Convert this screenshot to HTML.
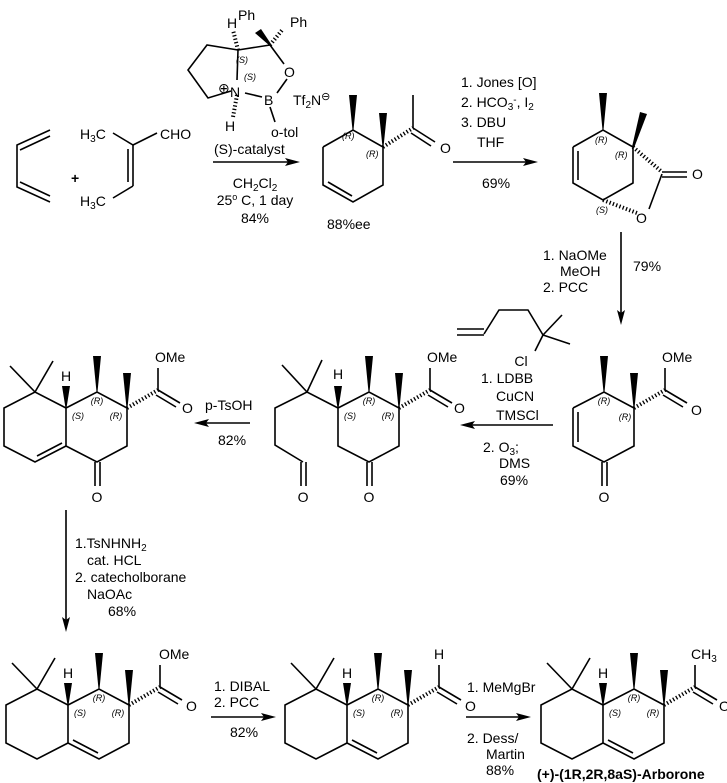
<!DOCTYPE html>
<html><head><meta charset="utf-8"><style>
html,body{margin:0;padding:0;background:#fff}
svg{display:block}
text{font-family:"Liberation Sans",Arial,sans-serif;font-size:14px;fill:#000}
.s{font-size:9px;font-style:italic}
</style></head><body>
<svg width="727" height="783" viewBox="0 0 727 783" xmlns="http://www.w3.org/2000/svg">
<defs>
<g id="ester">
 <line x1="61" y1="0" x2="92" y2="-18" stroke="#000" stroke-width="4" stroke-dasharray="1.3,2.2"/>
 <line x1="92" y1="-18" x2="92" y2="-40" stroke="#000" stroke-width="1.6"/>
 <line x1="92" y1="-18" x2="114" y2="-5" stroke="#000" stroke-width="1.6"/>
 <line x1="90" y1="-13" x2="110" y2="-1" stroke="#000" stroke-width="1.6"/>
</g>
<g id="wedges">
 <polygon points="30.5,-16 31.5,-16 35,-52 27,-52"/>
 <polygon points="60.5,0 61.5,0 65,-35 57,-35"/>
</g>
<g id="ringB">
 <polyline points="0,0 31,-16 61,0 61,38 31,54 0,38 0,0" fill="none" stroke="#000" stroke-width="1.6"/>
</g>
<g id="decal">
 <use href="#ringB"/>
 <polyline points="0,0 -31,-16 -62,0 -62,38 -31,54 0,38" fill="none" stroke="#000" stroke-width="1.6"/>
 <line x1="-31" y1="-16" x2="-56" y2="-42" stroke="#000" stroke-width="1.6"/>
 <line x1="-31" y1="-16" x2="-13" y2="-47" stroke="#000" stroke-width="1.6"/>
 <polygon points="-0.5,0 0.5,0 4,-22 -4,-22"/>
 <text x="0" y="-27" text-anchor="middle">H</text>
 <use href="#wedges"/>
 <text class="s" x="12" y="11" text-anchor="middle">(S)</text>
 <text class="s" x="31" y="-4" text-anchor="middle">(R)</text>
 <text class="s" x="50" y="11" text-anchor="middle">(R)</text>
</g>
</defs>

<g stroke="#000" stroke-width="1.6" fill="none">
<polyline points="50,130 17,145 17,187 50,202"/>
<line x1="20" y1="150" x2="50" y2="136"/>
<line x1="20" y1="182" x2="50" y2="196"/>
<line x1="113" y1="133" x2="133" y2="145"/>
<line x1="133" y1="145" x2="157" y2="133"/>
<line x1="133" y1="145" x2="133" y2="186"/>
<line x1="128" y1="149" x2="128" y2="182"/>
<line x1="133" y1="186" x2="113" y2="198"/>
<polyline points="238,50 207,45 188,70 208,98 231,91"/>
<line x1="237" y1="80" x2="238" y2="50"/>
<line x1="238" y1="50" x2="270" y2="45"/>
<line x1="270" y1="45" x2="284" y2="64"/>
<line x1="287" y1="79" x2="277" y2="93"/>
<line x1="245" y1="93" x2="262" y2="97"/>
<line x1="270" y1="107" x2="275" y2="122"/>
<line x1="238" y1="50" x2="233" y2="30" stroke-width="4" stroke-dasharray="1.3,2.2"/>
<line x1="237" y1="95" x2="233" y2="117" stroke-width="4" stroke-dasharray="1.3,2.2"/>
<line x1="270" y1="45" x2="283" y2="29" stroke-width="4" stroke-dasharray="1.3,2.2"/>
</g>
<polygon points="270,46 271,44 261,29 255,33"/>

<g stroke="#000" stroke-width="1.6" fill="none">
<g transform="translate(323,147)">
 <polyline points="0,0 30,-17 60,0 60,38 30,55 0,38 0,0"/>
 <line x1="5" y1="35" x2="29" y2="49"/>
 <line x1="60" y1="0" x2="90" y2="-19" stroke-width="4" stroke-dasharray="1.3,2.2"/>
 <line x1="90" y1="-19" x2="90" y2="-52"/>
 <line x1="90" y1="-19" x2="112" y2="-5"/>
 <line x1="88" y1="-14" x2="108" y2="-1"/>
</g>
<g transform="translate(573,147)">
 <polyline points="0,0 30,-17 60,0 60,36 30,53 0,36 0,0"/>
 <line x1="5" y1="4" x2="5" y2="33"/>
 <line x1="60" y1="0" x2="89" y2="25" stroke-width="4" stroke-dasharray="1.3,2.2"/>
 <line x1="89" y1="25" x2="114" y2="25"/>
 <line x1="89" y1="30" x2="114" y2="30"/>
 <line x1="89" y1="27" x2="76" y2="62"/>
 <line x1="30" y1="53" x2="64" y2="66" stroke-width="4" stroke-dasharray="1.3,2.2"/>
</g>
</g>
<polygon points="352.5,130 353.5,130 357,95 349,95"/>
<polygon points="382.5,147 383.5,147 387,113 379,113"/>
<polygon points="602.5,130 603.5,130 607,93 599,93"/>
<polygon points="632,147 634,148 647,114 640,112"/>

<text x="80" y="139">H<tspan font-size="10" dy="3">3</tspan><tspan dy="-3">C</tspan></text>
<text x="160" y="139">CHO</text>
<text x="80" y="206">H<tspan font-size="10" dy="3">3</tspan><tspan dy="-3">C</tspan></text>
<text x="71" y="183" font-size="20" font-weight="bold">+</text>
<text x="227" y="28">H</text><text x="238" y="20">Ph</text>
<text x="290" y="27">Ph</text>
<text x="284" y="77">O</text>
<text x="264" y="105">B</text>
<text x="230" y="97">N</text>
<text x="218" y="93" font-size="11">⊕</text>
<text class="s" x="236" y="63">(S)</text>
<text class="s" x="244" y="80">(S)</text>
<text x="293" y="105">Tf<tspan font-size="10" dy="3">2</tspan><tspan dy="-3">N</tspan><tspan font-size="11" dy="-5">⊖</tspan></text>
<text x="225" y="131">H</text>
<text x="271" y="137">o-tol</text>
<text x="214" y="154" font-size="11">(S)-catalyst</text>
<line x1="213" y1="162" x2="290" y2="162" stroke="#000" stroke-width="1.6"/>
<polygon points="300,162 285,158 288,162 285,166"/>
<text x="255" y="188" text-anchor="middle">CH<tspan font-size="10" dy="3">2</tspan><tspan dy="-3">Cl</tspan><tspan font-size="10" dy="3">2</tspan></text>
<text x="255" y="205" text-anchor="middle">25<tspan font-size="9" dy="-5">o</tspan><tspan dy="5"> C, 1 day</tspan></text>
<text x="255" y="223" text-anchor="middle">84%</text>
<text class="s" x="342" y="139">(R)</text>
<text class="s" x="366" y="157">(R)</text>
<text x="440" y="153">O</text>
<text x="327" y="229">88%ee</text>

<text x="461" y="87">1. Jones [O]</text>
<text x="461" y="107">2. HCO<tspan font-size="10" dy="3">3</tspan><tspan font-size="10" dy="-7">-</tspan><tspan dy="4">, I</tspan><tspan font-size="10" dy="3">2</tspan></text>
<text x="461" y="127">3. DBU</text>
<text x="477" y="147">THF</text>
<line x1="453" y1="162" x2="528" y2="162" stroke="#000" stroke-width="1.6"/>
<polygon points="538,162 523,158 526,162 523,166"/>
<text x="482" y="188">69%</text>
<text class="s" x="595" y="143">(R)</text>
<text class="s" x="615" y="158">(R)</text>
<text class="s" x="596" y="213">(S)</text>
<text x="692" y="179">O</text>
<text x="636" y="223">O</text>

<line x1="621" y1="232" x2="621" y2="313" stroke="#000" stroke-width="1.6"/>
<polygon points="621,325 617,310 621,313 625,310"/>
<text x="543" y="260">1. NaOMe</text>
<text x="560" y="276">MeOH</text>
<text x="543" y="292">2. PCC</text>
<text x="633" y="271">79%</text>

<g transform="translate(573,408)">
 <use href="#ringB"/>
 <line x1="5" y1="4" x2="5" y2="34" stroke="#000" stroke-width="1.6"/>
 <line x1="29" y1="54" x2="29" y2="78" stroke="#000" stroke-width="1.6"/>
 <line x1="34" y1="54" x2="34" y2="78" stroke="#000" stroke-width="1.6"/>
 <text x="31" y="94" text-anchor="middle">O</text>
 <use href="#wedges"/>
 <use href="#ester"/>
 <text x="89" y="-46">OMe</text>
 <text x="118" y="7">O</text>
 <text class="s" x="31" y="-4" text-anchor="middle">(R)</text>
 <text class="s" x="52" y="12" text-anchor="middle">(R)</text>
</g>

<g stroke="#000" stroke-width="1.6" fill="none">
<line x1="457" y1="329" x2="484" y2="329"/>
<line x1="457" y1="335" x2="484" y2="335"/>
<polyline points="484,334 499,310 528,310 543,335"/>
<line x1="543" y1="335" x2="562" y2="315"/>
<line x1="543" y1="335" x2="570" y2="344"/>
<line x1="543" y1="335" x2="535" y2="351"/>
</g>
<text x="521" y="366" text-anchor="middle">Cl</text>
<text x="481" y="383">1. LDBB</text>
<text x="496" y="401">CuCN</text>
<text x="496" y="420">TMSCl</text>
<line x1="470" y1="425" x2="553" y2="425" stroke="#000" stroke-width="1.6"/>
<polygon points="460,425 475,421 472,425 475,429"/>
<text x="483" y="452">2. O<tspan font-size="10" dy="3">3</tspan><tspan dy="-3">;</tspan></text>
<text x="499" y="468">DMS</text>
<text x="500" y="485">69%</text>

<g transform="translate(338,408)">
 <use href="#ringB"/>
 <polyline points="0,0 -31,-16 -63,0 -63,37 -35,54" fill="none" stroke="#000" stroke-width="1.6"/>
 <line x1="-37" y1="54" x2="-37" y2="78" stroke="#000" stroke-width="1.6"/>
 <line x1="-32" y1="54" x2="-32" y2="78" stroke="#000" stroke-width="1.6"/>
 <text x="-35" y="94" text-anchor="middle">O</text>
 <line x1="-31" y1="-16" x2="-56" y2="-43" stroke="#000" stroke-width="1.6"/>
 <line x1="-31" y1="-16" x2="-16" y2="-48" stroke="#000" stroke-width="1.6"/>
 <line x1="29" y1="54" x2="29" y2="78" stroke="#000" stroke-width="1.6"/>
 <line x1="34" y1="54" x2="34" y2="78" stroke="#000" stroke-width="1.6"/>
 <text x="31" y="94" text-anchor="middle">O</text>
 <polygon points="-0.5,0 0.5,0 4,-22 -4,-22"/>
 <text x="0" y="-29" text-anchor="middle">H</text>
 <use href="#wedges"/>
 <use href="#ester"/>
 <text x="89" y="-46">OMe</text>
 <text x="116" y="5">O</text>
 <text class="s" x="12" y="11" text-anchor="middle">(S)</text>
 <text class="s" x="31" y="-4" text-anchor="middle">(R)</text>
 <text class="s" x="50" y="11" text-anchor="middle">(R)</text>
</g>

<line x1="205" y1="423" x2="250" y2="423" stroke="#000" stroke-width="1.6"/>
<polygon points="194,423 209,419 206,423 209,427"/>
<text x="205" y="410">p-TsOH</text>
<text x="218" y="445">82%</text>

<g transform="translate(66,408)">
 <use href="#decal"/>
 <line x1="-29" y1="48" x2="-4" y2="35" stroke="#000" stroke-width="1.6"/>
 <line x1="29" y1="54" x2="29" y2="78" stroke="#000" stroke-width="1.6"/>
 <line x1="34" y1="54" x2="34" y2="78" stroke="#000" stroke-width="1.6"/>
 <text x="31" y="94" text-anchor="middle">O</text>
 <use href="#ester"/>
 <text x="89" y="-46">OMe</text>
 <text x="116" y="5">O</text>
</g>

<line x1="66" y1="510" x2="66" y2="620" stroke="#000" stroke-width="1.6"/>
<polygon points="66,632 62,617 66,620 70,617"/>
<text x="75" y="548">1.TsNHNH<tspan font-size="10" dy="3">2</tspan></text>
<text x="87" y="565">cat. HCL</text>
<text x="75" y="582">2. catecholborane</text>
<text x="87" y="599">NaOAc</text>
<text x="108" y="616">68%</text>

<g transform="translate(68,705)">
 <use href="#decal"/>
 <line x1="5" y1="35" x2="30" y2="48" stroke="#000" stroke-width="1.6"/>
 <use href="#ester"/>
 <text x="91" y="-46">OMe</text>
 <text x="118" y="6">O</text>
</g>
<text x="214" y="691">1. DIBAL</text>
<text x="214" y="707">2. PCC</text>
<line x1="211" y1="717" x2="265" y2="717" stroke="#000" stroke-width="1.6"/>
<polygon points="276,717 261,713 264,717 261,721"/>
<text x="230" y="737">82%</text>

<g transform="translate(347,705)">
 <use href="#decal"/>
 <line x1="5" y1="35" x2="30" y2="48" stroke="#000" stroke-width="1.6"/>
 <use href="#ester"/>
 <text x="92" y="-46" text-anchor="middle">H</text>
 <text x="118" y="6">O</text>
</g>
<text x="467" y="692">1. MeMgBr</text>
<line x1="466" y1="717" x2="520" y2="717" stroke="#000" stroke-width="1.6"/>
<polygon points="531,717 516,713 519,717 516,721"/>
<text x="467" y="743">2. Dess/</text>
<text x="486" y="759">Martin</text>
<text x="486" y="775">88%</text>

<g transform="translate(603,705)">
 <use href="#decal"/>
 <line x1="5" y1="35" x2="30" y2="48" stroke="#000" stroke-width="1.6"/>
 <use href="#ester"/>
 <text x="88" y="-46">CH<tspan font-size="10" dy="3">3</tspan></text>
 <text x="116" y="6">O</text>
</g>
<text x="537" y="779" font-size="11" font-weight="bold">(+)-(1R,2R,8aS)-Arborone</text>
</svg>
</body></html>
